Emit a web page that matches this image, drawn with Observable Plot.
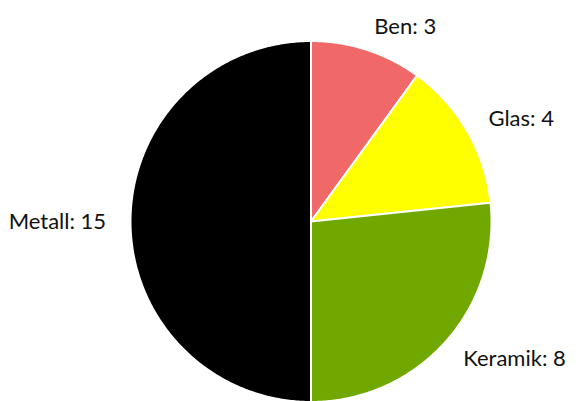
<!DOCTYPE html>
<html>
<head>
<meta charset="utf-8">
<script src="https://cdn.jsdelivr.net/npm/d3@7"></script>
<script src="https://cdn.jsdelivr.net/npm/@observablehq/plot@0.6"></script>
<style>
  html, body { margin: 0; padding: 0; background: #fff; }
</style>
</head>
<body>
<div id="chart"></div>
<script>
const categories = ["Ben", "Glas", "Keramik", "Metall"];
const values = [3, 4, 8, 15];
const colors = ["#f06868", "#ffff00", "#70a800", "#000000"];

const W = 580, H = 401;
const cx = 310.5, cy = 221, R = 180.5;
const labelR = 1.135;

const pie = d3.pie().sort(null).value(d => d.value)(categories.map((c, i) => ({category: c, value: values[i], color: colors[i]})));

const slicePoints = [];
for (const a of pie) {
  slicePoints.push({category: a.data.category, x: 0, y: 0});
  const steps = Math.max(2, Math.ceil((a.endAngle - a.startAngle) / 0.01));
  for (let k = 0; k <= steps; k++) {
    const t = a.startAngle + (a.endAngle - a.startAngle) * k / steps;
    slicePoints.push({category: a.data.category, x: Math.sin(t), y: Math.cos(t)});
  }
  slicePoints.push({category: a.data.category, x: 0, y: 0});
}

const labels = pie.map(a => {
  const m = (a.startAngle + a.endAngle) / 2;
  return {
    text: `${a.data.category}: ${a.data.value}`,
    x: labelR * Math.sin(m),
    y: labelR * Math.cos(m),
    anchor: Math.sin(m) >= 0 ? "start" : "end"
  };
});

const chart = Plot.plot({
  width: W,
  height: H,
  margin: 0,
  x: {domain: [-1, 1], range: [cx - R, cx + R], axis: null},
  y: {domain: [-1, 1], range: [cy + R, cy - R], axis: null},
  color: {domain: categories, range: colors},
  style: {fontFamily: "Lato, sans-serif", background: "#fff", overflow: "visible"},
  marks: [
    Plot.line(slicePoints, {x: "x", y: "y", z: "category", fill: "category", stroke: "#fff", strokeWidth: 2, strokeLinejoin: "round", curve: "linear"}),
    Plot.text(labels.filter(d => d.anchor === "start"), {x: "x", y: "y", text: "text", textAnchor: "start", fontSize: 22, fill: "#111"}),
    Plot.text(labels.filter(d => d.anchor === "end"), {x: "x", y: "y", text: "text", textAnchor: "end", fontSize: 22, fill: "#111"})
  ]
});
document.getElementById("chart").appendChild(chart);
</script>
</body>
</html>
